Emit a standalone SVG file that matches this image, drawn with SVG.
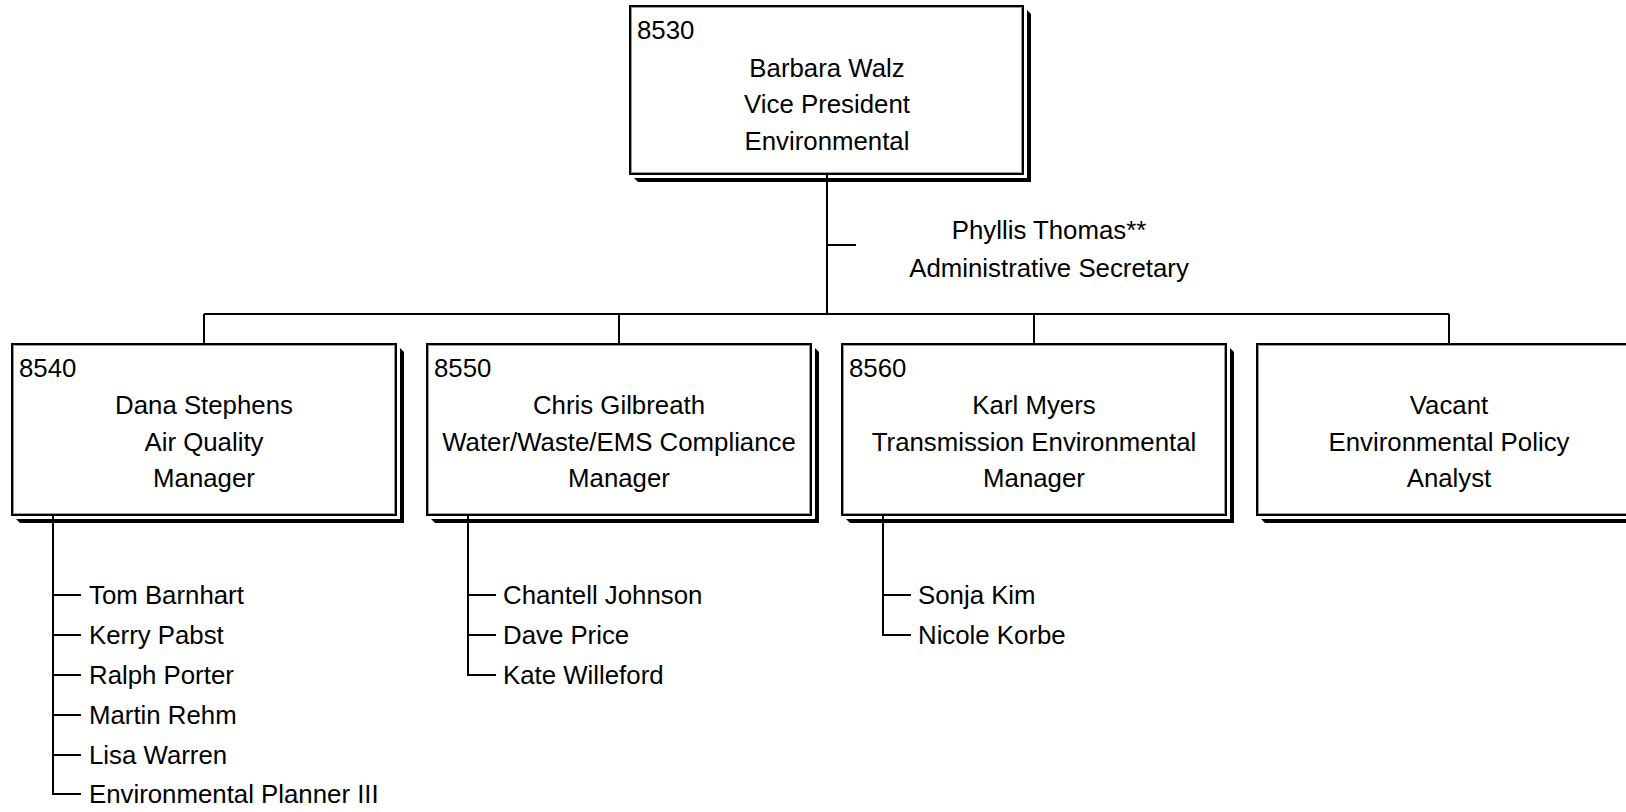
<svg xmlns="http://www.w3.org/2000/svg" width="1626" height="812" viewBox="0 0 1626 812">
<style>
text{font-family:"Liberation Sans",Arial,sans-serif;font-size:25.8px;fill:#000}
.c{text-anchor:middle}
.box{fill:#fff;stroke:#000;stroke-width:2}
.inner{fill:none;stroke:#999;stroke-width:1}
.sh{fill:#000}
.ln{stroke:#000;stroke-width:2;fill:none}
</style>
<rect width="1626" height="812" fill="#fff"/>
<g id="connectors">
<path class="ln" d="M827 174V314M827 245H856M204 314H1449M204 314V344M619 314V344M1034 314V344M1449 314V344"/>
<path class="ln" d="M53 515V794H81M53 595H81M53 635H81M53 675H81M53 715H81M53 755H81"/>
<path class="ln" d="M468 515V675H496M468 595H496M468 635H496"/>
<path class="ln" d="M883 515V635H911M883 595H911"/>
</g>
<g id="n8530">
<path class="sh" d="M634 178H1027V10L1031 14V182H638Z"/>
<rect class="box" x="630" y="6" width="393" height="168"/>
<rect class="inner" x="631.5" y="7.5" width="390" height="165"/>
<text x="637" y="39">8530</text>
<text class="c" x="827" y="77">Barbara Walz</text>
<text class="c" x="827" y="113">Vice President</text>
<text class="c" x="827" y="150">Environmental</text>
</g>
<g id="assistant">
<text class="c" x="1049" y="239">Phyllis Thomas**</text>
<text class="c" x="1049" y="277">Administrative Secretary</text>
</g>
<g id="n8540">
<path class="sh" d="M16 519H400V348L404 352V523H20Z"/>
<rect class="box" x="12" y="344" width="384" height="171"/>
<rect class="inner" x="13.5" y="345.5" width="381" height="168"/>
<text x="19" y="377">8540</text>
<text class="c" x="204" y="414">Dana Stephens</text>
<text class="c" x="204" y="451">Air Quality</text>
<text class="c" x="204" y="487">Manager</text>
</g>
<g id="n8550">
<path class="sh" d="M431 519H815V348L819 352V523H435Z"/>
<rect class="box" x="427" y="344" width="384" height="171"/>
<rect class="inner" x="428.5" y="345.5" width="381" height="168"/>
<text x="434" y="377">8550</text>
<text class="c" x="619" y="414">Chris Gilbreath</text>
<text class="c" x="619" y="451">Water/Waste/EMS Compliance</text>
<text class="c" x="619" y="487">Manager</text>
</g>
<g id="n8560">
<path class="sh" d="M846 519H1230V348L1234 352V523H850Z"/>
<rect class="box" x="842" y="344" width="384" height="171"/>
<rect class="inner" x="843.5" y="345.5" width="381" height="168"/>
<text x="849" y="377">8560</text>
<text class="c" x="1034" y="414">Karl Myers</text>
<text class="c" x="1034" y="451">Transmission Environmental</text>
<text class="c" x="1034" y="487">Manager</text>
</g>
<g id="vacant">
<path class="sh" d="M1261 519H1645V348L1649 352V523H1265Z"/>
<rect class="box" x="1257" y="344" width="384" height="171"/>
<rect class="inner" x="1258.5" y="345.5" width="381" height="168"/>
<text class="c" x="1449" y="414">Vacant</text>
<text class="c" x="1449" y="451">Environmental Policy</text>
<text class="c" x="1449" y="487">Analyst</text>
</g>
<g id="staff8540">
<text x="89" y="604">Tom Barnhart</text>
<text x="89" y="644">Kerry Pabst</text>
<text x="89" y="684">Ralph Porter</text>
<text x="89" y="724">Martin Rehm</text>
<text x="89" y="764">Lisa Warren</text>
<text x="89" y="803">Environmental Planner III</text>
</g>
<g id="staff8550">
<text x="503" y="604">Chantell Johnson</text>
<text x="503" y="644">Dave Price</text>
<text x="503" y="684">Kate Willeford</text>
</g>
<g id="staff8560">
<text x="918" y="604">Sonja Kim</text>
<text x="918" y="644">Nicole Korbe</text>
</g>
</svg>
